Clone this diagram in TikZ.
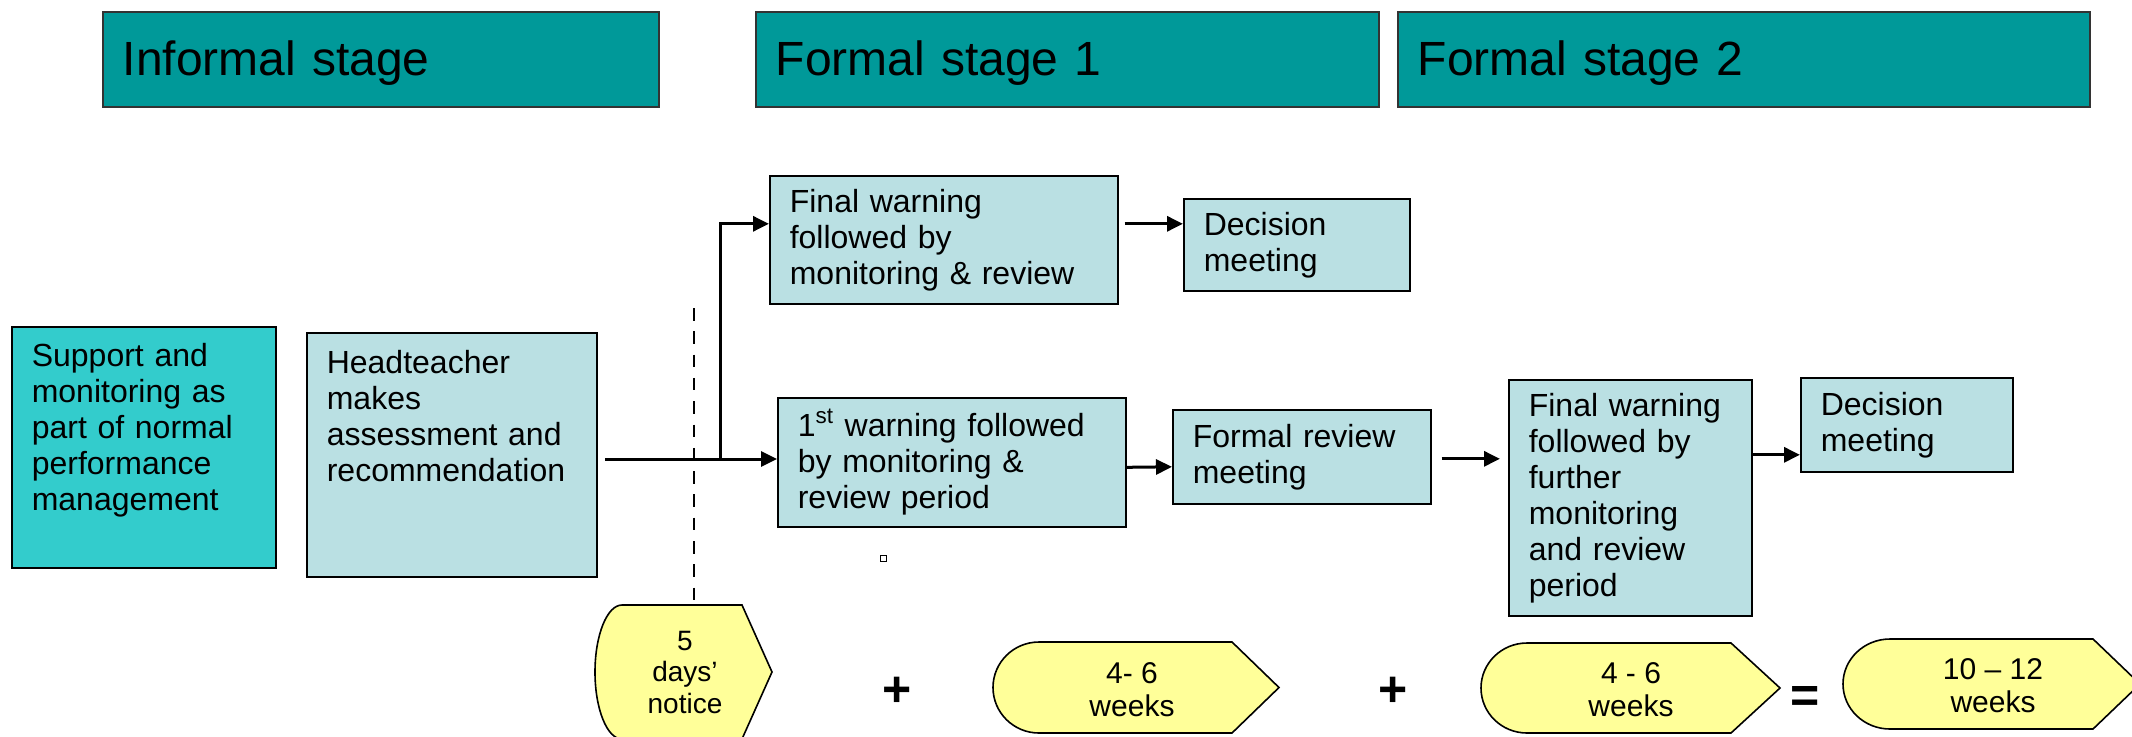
\documentclass[tikz,border=0pt]{standalone}
\usepackage{fontspec}
\setmainfont{Liberation Sans}
\usetikzlibrary{calc, arrows.meta}

\definecolor{hdrteal}{RGB}{0,153,153}
\definecolor{suppteal}{RGB}{51,204,204}
\definecolor{paleblue}{RGB}{186,224,227}
\definecolor{paleyellow}{RGB}{255,255,153}
\hfuzz=6pt

\begin{document}
\begin{tikzpicture}[x=0.5pt, y=-0.5pt, line width=1.5pt,
    header/.style={draw=black!80, line width=0.8pt, fill=hdrteal, anchor=north west,
        inner xsep=10pt, inner ysep=0pt, minimum height=47.5pt, align=left, text depth=1pt,
        font=\fontsize{24}{28}\selectfont},
    stepbox/.style={draw, line width=0.8pt, fill=paleblue, anchor=north west,
        inner xsep=10pt, inner ysep=0pt, align=left, font=\fontsize{16}{18}\selectfont},
    disp/.style={draw, line width=0.8pt, fill=paleyellow},
    durtext/.style={align=center, inner sep=0pt, font=\fontsize{15}{16.5}\selectfont},
    opsign/.style={inner sep=0pt, font=\fontsize{25}{25}\selectfont\bfseries},
    arr/.style={-{Triangle[length=8pt, width=7.5pt]}, line width=1.5pt},
    dashline/.style={line width=1.3pt, dash pattern=on 6.25pt off 5.4pt}]

    \useasboundingbox (0,0) rectangle (2132,736);

    % --- Stage headers ---
    \node (inf) [header, text width=258pt]   at (102,11)  {Informal stage};
    \node (fs1) [header, text width=291.5pt] at (755,11)  {Formal stage 1};
    \node (fs2) [header, text width=326pt]   at (1397,11) {Formal stage 2};

    % --- Informal stage boxes ---
    % a large text depth keeps the text at the top of these two boxes
    \node (sup) [stepbox, fill=suppteal, text width=112pt, minimum height=120.5pt, text depth=92pt]
        at (11,326) {Support and\\monitoring as\\part of normal\\performance\\management};
    \node (ht) [stepbox, text width=125pt, minimum height=122pt, text depth=92.5pt]
        at (306,332) {Headteacher\\makes\\assessment and\\recommendation};

    % --- Formal stage 1 ---
    \node (fw1) [stepbox, text width=154pt, minimum height=64pt]
        at (769,175) {Final warning\\followed by\\monitoring \& review};
    \node (dm1) [stepbox, text width=93pt, minimum height=46pt]
        at (1183,198) {Decision\\meeting};
    \node (w1) [stepbox, text width=154pt, minimum height=64.5pt]
        at (777,397) {1\textsuperscript{st} warning followed\\by monitoring \&\\review period};
    \node (frm) [stepbox, text width=109pt, minimum height=47pt]
        at (1172,409) {Formal review\\meeting};

    % --- Formal stage 2 ---
    \node (fw2) [stepbox, text width=101.5pt, minimum height=118pt]
        at (1508,379) {Final warning\\followed by\\further\\monitoring\\and review\\period};
    \node (dm2) [stepbox, text width=86pt, minimum height=47pt]
        at (1800,377) {Decision\\meeting};

    % --- Connectors ---
    \coordinate (htout) at (605,459);
    \coordinate (split) at (720,459);
    \coordinate (fw1in) at ($(fw1.west)+(0,-16)$);
    \draw[arr] (htout) -- (htout -| w1.west);
    \draw[arr] (split) |- (fw1in);
    \draw[arr] ($(fw1.east)+(6,-16)$) -- ($(dm1.west)+(0,-21)$);
    \draw[arr] ($(w1.east)+(0,5)$) -- ($(frm.west)+(0,10)$);
    \draw[arr] ($(frm.east)+(10,2)$) -- ($(fw2.west)+(-8,-39)$);
    \draw[arr] ($(fw2.east)+(0,-43)$) -- ($(dm2.west)+(0,30)$);

    % notice line
    \coordinate (dtop) at (694,308);
    \coordinate (dbot) at (694,605);
    \draw[dashline] (dtop) -- (dbot);

    % stray mark below the 1st warning box
    \draw[line width=0.5pt] (880,555) rectangle (886,561);

    % --- Durations ---
    \draw[disp] (742,605) -- (622,605) arc[start angle=270, end angle=90, x radius=27, y radius=67]
        -- (742,739) -- (772,672) -- cycle;
    \draw[disp] (1232,642) -- (1039,642) arc[start angle=270, end angle=90, x radius=46, y radius=45.5]
        -- (1232,733) -- (1279,687.5) -- cycle;
    \draw[disp] (1731,643) -- (1527,643) arc[start angle=270, end angle=90, x radius=46, y radius=45]
        -- (1731,733) -- (1780,688) -- cycle;
    \draw[disp] (2093,639) -- (1890,639) arc[start angle=270, end angle=90, x radius=47, y radius=45]
        -- (2093,729) -- (2140,684) -- cycle;

    \node (nd)  [durtext, font=\fontsize{14}{15.75}\selectfont] at (685,672) {5\\days’\\notice};
    \node (wk1) [durtext] at (1132,690) {4- 6\\weeks};
    \node (wk2) [durtext] at (1631,690) {4 - 6\\weeks};
    \node (tot) [durtext] at (1993,686) {10 -- 12\\weeks};

    \node (plus1) [opsign] at (897,692)  {+};
    \node (plus2) [opsign] at (1393,692) {+};
    \node (eqs)   [opsign] at (1805,699) {=};

\end{tikzpicture}
\end{document}
